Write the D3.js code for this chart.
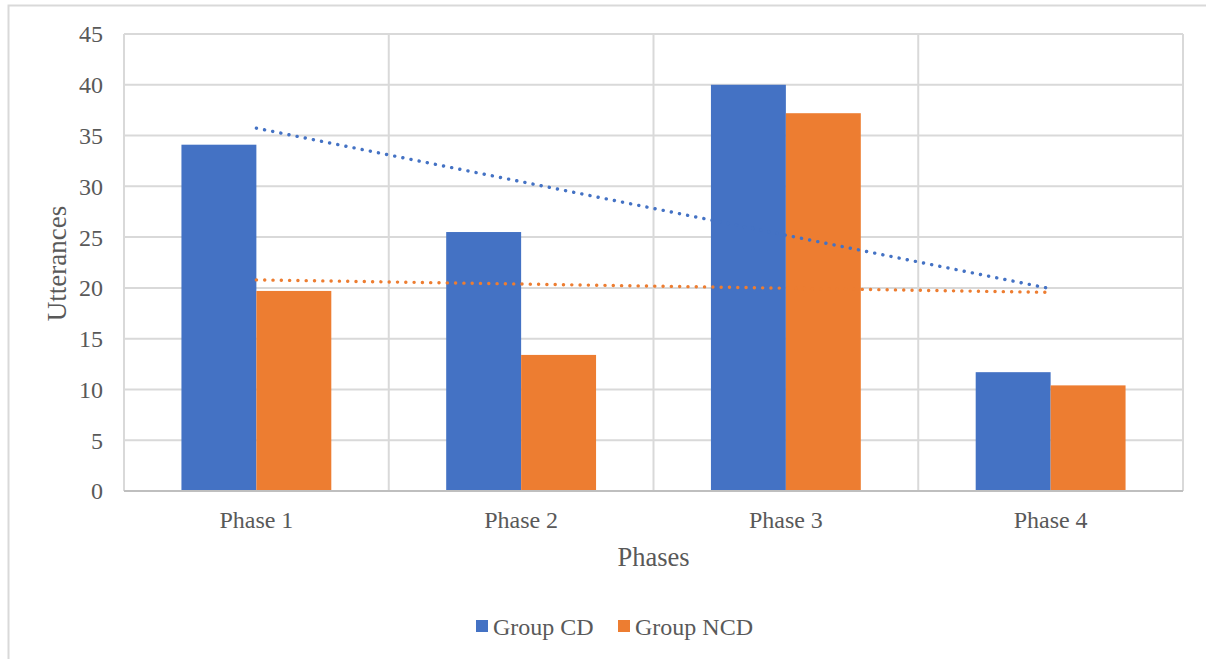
<!DOCTYPE html>
<html>
<head>
<meta charset="utf-8">
<script src="https://cdn.jsdelivr.net/npm/d3@7/dist/d3.min.js"></script>
<style>
  html, body { margin: 0; padding: 0; background: #fff; }
  svg { display: block; }
  text { font-family: "Liberation Serif", "Times New Roman", serif; fill: #595959; }
</style>
</head>
<body>
<svg id="chart" width="1206" height="659"></svg>
<script>
// Utterances per phase for each group
const phases = ["Phase 1", "Phase 2", "Phase 3", "Phase 4"];
const groupCD = [34.1, 25.5, 40.0, 11.7];
const groupNCD = [19.7, 13.4, 37.2, 10.4];
const seriesNames = ["Group CD", "Group NCD"];
const seriesColors = ["#4472C4", "#ED7D31"];
const yTicks = [0, 5, 10, 15, 20, 25, 30, 35, 40, 45];

const series = [groupCD, groupNCD];

const svg = d3.select("#chart");
const margin = { left: 124, right: 1183, top: 34, bottom: 491 };

// outer chart frame
svg.append("rect")
  .attr("x", 8.5).attr("y", 5.5)
  .attr("width", 1206).attr("height", 700)
  .attr("fill", "none").attr("stroke", "#d9d9d9").attr("stroke-width", 2);

const x = d3.scaleBand().domain(phases).range([margin.left, margin.right]).padding(0);
const xInner = d3.scaleBand().domain(seriesNames).range([0, x.bandwidth()]).paddingInner(0).paddingOuter(0.7667);
const y = d3.scaleLinear().domain([0, 45]).range([margin.bottom, margin.top]);

// horizontal gridlines
svg.append("g").selectAll("line").data(yTicks).join("line")
  .attr("x1", margin.left).attr("x2", margin.right)
  .attr("y1", d => y(d)).attr("y2", d => y(d))
  .attr("stroke", "#d9d9d9").attr("stroke-width", 2);

// vertical gridlines at category boundaries
const bounds = phases.map(p => x(p)).concat([margin.right]);
svg.append("g").selectAll("line").data(bounds).join("line")
  .attr("x1", d => d).attr("x2", d => d)
  .attr("y1", margin.top).attr("y2", margin.bottom)
  .attr("stroke", "#d9d9d9").attr("stroke-width", 2);

// bars
series.forEach((vals, si) => {
  svg.append("g").selectAll("rect").data(vals).join("rect")
    .attr("x", (d, i) => x(phases[i]) + xInner(seriesNames[si]))
    .attr("width", xInner.bandwidth())
    .attr("y", d => y(d))
    .attr("height", d => y(0) - y(d))
    .attr("fill", seriesColors[si]);
});

// x axis baseline
svg.append("line")
  .attr("x1", margin.left).attr("x2", margin.right)
  .attr("y1", y(0)).attr("y2", y(0))
  .attr("stroke", "#bfbfbf").attr("stroke-width", 2);

// linear trendlines (least squares over phase index 1..n)
function linearFit(vals) {
  const xs = vals.map((_, i) => i + 1);
  const mx = d3.mean(xs), my = d3.mean(vals);
  const num = d3.sum(xs, (xv, i) => (xv - mx) * (vals[i] - my));
  const den = d3.sum(xs, xv => (xv - mx) * (xv - mx));
  const slope = num / den;
  return xv => my + slope * (xv - mx);
}
const center = i => x(phases[i]) + x.bandwidth() / 2;
series.forEach((vals, si) => {
  const f = linearFit(vals);
  const pts = vals.map((_, i) => [center(i), y(f(i + 1))]);
  svg.append("path")
    .attr("d", d3.line()(pts))
    .attr("fill", "none")
    .attr("stroke", seriesColors[si])
    .attr("stroke-width", 3.4)
    .attr("stroke-linecap", "round")
    .attr("stroke-dasharray", "0.1 8.2");
});

// y tick labels
svg.append("g").selectAll("text").data(yTicks).join("text")
  .attr("x", 103).attr("y", d => y(d))
  .attr("dy", "0.35em")
  .attr("text-anchor", "end")
  .style("font-size", "24px")
  .text(d => d);

// x category labels
svg.append("g").selectAll("text").data(phases).join("text")
  .attr("x", d => x(d) + x.bandwidth() / 2)
  .attr("y", 528)
  .attr("text-anchor", "middle")
  .style("font-size", "24px")
  .text(d => d);

// axis titles
svg.append("text")
  .attr("transform", "translate(66," + ((margin.top + margin.bottom) / 2 + 1) + ") rotate(-90)")
  .attr("text-anchor", "middle")
  .style("font-size", "27px")
  .text("Utterances");

svg.append("text")
  .attr("x", (margin.left + margin.right) / 2)
  .attr("y", 566)
  .attr("text-anchor", "middle")
  .style("font-size", "26.5px")
  .text("Phases");

// legend
const legendItems = [{ name: seriesNames[0], color: seriesColors[0], x: 476 },
                     { name: seriesNames[1], color: seriesColors[1], x: 618 }];
const lg = svg.append("g").selectAll("g").data(legendItems).join("g");
lg.append("rect")
  .attr("x", d => d.x).attr("y", 620)
  .attr("width", 12).attr("height", 12)
  .attr("fill", d => d.color);
lg.append("text")
  .attr("x", d => d.x + 17).attr("y", 635)
  .style("font-size", "24px")
  .text(d => d.name);
</script>
</body>
</html>
